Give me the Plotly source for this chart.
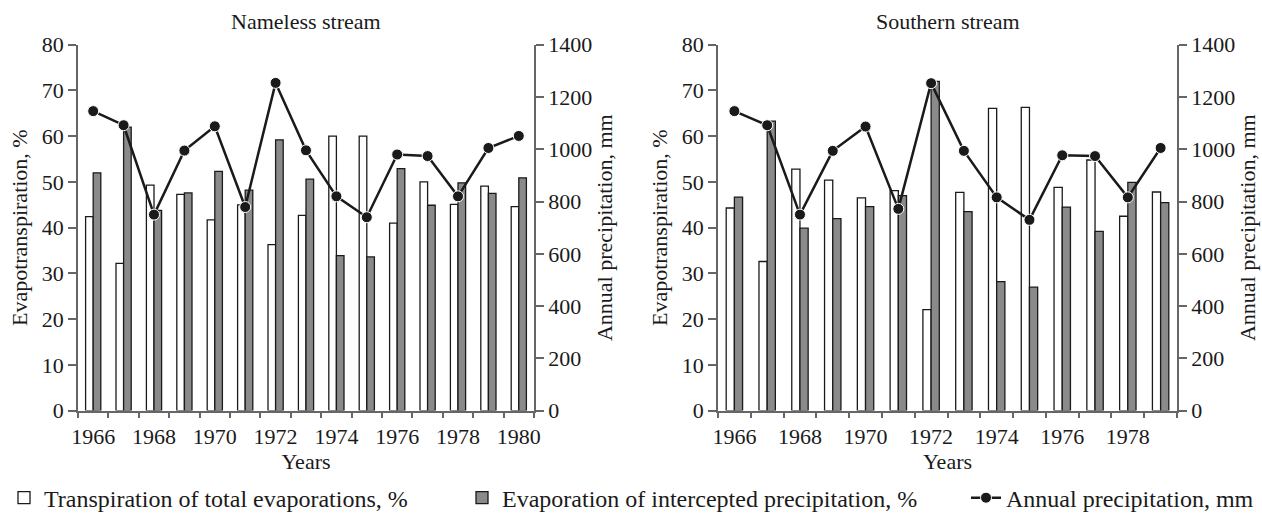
import plotly.graph_objects as go

# ---- data ----
years_nameless = list(range(1966, 1981))
transp_nameless = [42.4, 32.2, 49.3, 47.3, 41.7, 45.0, 36.3, 42.7, 60.0, 60.0, 41.0, 50.0, 45.1, 49.1, 44.6]
interc_nameless = [52.0, 62.0, 43.8, 47.6, 52.3, 48.2, 59.2, 50.6, 33.9, 33.6, 52.9, 44.9, 49.8, 47.5, 50.9]
precip_nameless = [1146, 1092, 750, 995, 1088, 779, 1254, 996, 820, 740, 980, 974, 820, 1005, 1051]

years_southern = list(range(1966, 1980))
transp_southern = [44.3, 32.6, 52.8, 50.4, 46.5, 48.1, 22.1, 47.7, 66.1, 66.3, 48.8, 54.8, 42.5, 47.8]
interc_southern = [46.7, 63.3, 39.9, 42.0, 44.6, 47.0, 72.0, 43.5, 28.2, 27.0, 44.5, 39.2, 49.9, 45.5]
precip_southern = [1146, 1092, 750, 994, 1087, 772, 1253, 994, 816, 730, 977, 974, 816, 1005]

xticks_nameless = [1966, 1968, 1970, 1972, 1974, 1976, 1978, 1980]
xticks_southern = [1966, 1968, 1970, 1972, 1974, 1976, 1978]

name_t = "Transpiration of total evaporations, %"
name_i = "Evaporation of intercepted precipitation, %"
name_p = "Annual precipitation, mm"

FONT = "Liberation Serif, Times New Roman, serif"
TXT = "#1a1a1a"
AX = "#666666"
W, H = 1262, 521

fig = go.Figure()


def add_panel(years, tr, ic, pr, xa, ya, ya2, show):
    fig.add_trace(go.Bar(x=years, y=tr, name=name_t, xaxis=xa, yaxis=ya,
                         marker=dict(color="white", line=dict(color="#1a1a1a", width=1.3)),
                         offsetgroup="t", showlegend=show, legend="legend"))
    fig.add_trace(go.Bar(x=years, y=ic, name=name_i, xaxis=xa, yaxis=ya,
                         marker=dict(color="#8a8a8a", line=dict(color="#1a1a1a", width=1.3)),
                         offsetgroup="i", showlegend=show, legend="legend2"))
    fig.add_trace(go.Scatter(x=years, y=pr, name=name_p, xaxis=xa, yaxis=ya2,
                             mode="lines+markers",
                             line=dict(color="#1a1a1a", width=2.5),
                             marker=dict(color="#1a1a1a", size=11, line=dict(color="white", width=1)),
                             showlegend=show, legend="legend3"))


add_panel(years_nameless, transp_nameless, interc_nameless, precip_nameless, "x", "y", "y2", True)
add_panel(years_southern, transp_southern, interc_southern, precip_southern, "x2", "y3", "y4", False)

xd1 = [78 / W, 534 / W]
xd2 = [718 / W, 1177 / W]
yd = [108 / H, 476 / H]

tickfont = dict(family=FONT, size=22, color=TXT)
titlefont = dict(family=FONT, size=22, color=TXT)


def xaxis(domain, anchor, rng, ticks):
    return dict(domain=domain, anchor=anchor, range=rng, tickvals=ticks, ticks="",
                showline=True, linecolor=AX, linewidth=1.5, showgrid=False, zeroline=False,
                tickfont=tickfont, automargin=False, ticklabelstandoff=5,
                minor=dict(ticks="outside", tick0=1966.5, dtick=1, ticklen=6, tickcolor=AX, tickwidth=1.5, showgrid=False),
                title=dict(text="Years", font=titlefont, standoff=5))


def yleft(domain, anchor):
    return dict(domain=domain, anchor=anchor, range=[0, 80], tick0=0, dtick=10,
                ticks="outside", ticklen=8, tickcolor=AX, tickwidth=1.5,
                showline=True, linecolor=AX, linewidth=1.5, showgrid=False, zeroline=False,
                tickfont=tickfont, automargin=False,
                title=dict(text="Evapotranspiration, %", font=titlefont, standoff=8))


def yright(overlay, anchor):
    return dict(overlaying=overlay, anchor=anchor, side="right", range=[0, 1400], tick0=0, dtick=200,
                ticks="outside", ticklen=8, tickcolor=AX, tickwidth=1.5,
                showline=True, linecolor=AX, linewidth=1.5, showgrid=False, zeroline=False,
                tickfont=tickfont, automargin=False,
                title=dict(text="Annual precipitation, mm", font=titlefont, standoff=4))


legfont = dict(family=FONT, size=24, color=TXT)
fig.update_layout(
    template="none",
    width=W, height=H,
    margin=dict(l=0, r=0, t=0, b=0),
    paper_bgcolor="white", plot_bgcolor="white",
    barmode="group", bargap=0.5, bargroupgap=0,
    font=dict(family=FONT, color=TXT),
    xaxis=xaxis(xd1, "y", [1965.5, 1980.5], xticks_nameless),
    yaxis=yleft(yd, "x"),
    yaxis2=yright("y", "x"),
    xaxis2=xaxis(xd2, "y3", [1965.5, 1979.5], xticks_southern),
    yaxis3=yleft(yd, "x2"),
    yaxis4=yright("y3", "x2"),
    legend=dict(x=4 / W, y=20 / H, xanchor="left", yanchor="middle", orientation="h",
                font=legfont, bgcolor="rgba(0,0,0,0)"),
    legend2=dict(x=462 / W, y=20 / H, xanchor="left", yanchor="middle", orientation="h",
                 font=legfont, bgcolor="rgba(0,0,0,0)"),
    legend3=dict(x=966 / W, y=20 / H, xanchor="left", yanchor="middle", orientation="h",
                 font=legfont, bgcolor="rgba(0,0,0,0)"),
    annotations=[
        dict(text="Nameless stream", x=(xd1[0] + xd1[1]) / 2, y=(H - 22) / H, xref="paper", yref="paper",
             showarrow=False, font=titlefont, xanchor="center", yanchor="middle"),
        dict(text="Southern stream", x=(xd2[0] + xd2[1]) / 2, y=(H - 22) / H, xref="paper", yref="paper",
             showarrow=False, font=titlefont, xanchor="center", yanchor="middle"),
    ],
)

fig.write_html("out.html", config={"displayModeBar": False},
               post_script="document.body.style.margin='0';document.body.style.overflow='hidden';")
